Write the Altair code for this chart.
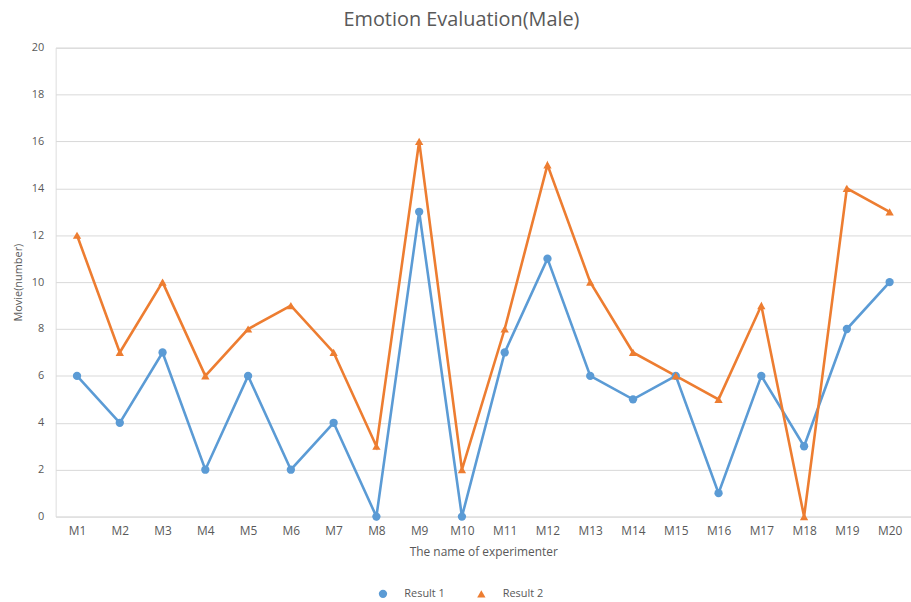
import altair as alt
import pandas as pd

names = [f"M{i}" for i in range(1, 21)]
result1 = [6, 4, 7, 2, 6, 2, 4, 0, 13, 0, 7, 11, 6, 5, 6, 1, 6, 3, 8, 10]
result2 = [12, 7, 10, 6, 8, 9, 7, 3, 16, 2, 8, 15, 10, 7, 6, 5, 9, 0, 14, 13]
series = ["Result 1", "Result 2"]
colors = ["#5B9BD5", "#ED7D31"]
shapes = ["circle", "triangle-up"]

rows = []
for n, a, b in zip(names, result1, result2):
    rows.append({"name": n, "value": a, "series": series[0]})
    rows.append({"name": n, "value": b, "series": series[1]})
df = pd.DataFrame(rows)

FONT = "Open Sans, sans-serif"

x = alt.X("name:N", sort=names, title="The name of experimenter",
          scale=alt.Scale(type="point", padding=0.5),
          axis=alt.Axis(labelAngle=0, ticks=False, domain=False, grid=False,
                        labelPadding=9, titlePadding=10, labelFontSize=12,
                        titleFontSize=12, labelColor="#595959", titleColor="#595959",
                        labelFont=FONT, titleFont=FONT, titleFontWeight="normal"))
y = alt.Y("value:Q", title="Movie(number)",
          scale=alt.Scale(domain=[0, 20], nice=False),
          axis=alt.Axis(values=list(range(0, 21, 2)), ticks=False, domain=False,
                        gridColor="#d9d9d9", gridWidth=1, labelPadding=12,
                        titlePadding=8, labelFontSize=11, titleFontSize=11,
                        labelColor="#595959", titleColor="#595959",
                        labelFont=FONT, titleFont=FONT, titleFontWeight="normal"))
color = alt.Color("series:N", scale=alt.Scale(domain=series, range=colors),
                  legend=alt.Legend(title=None, orient="none", direction="horizontal",
                                    legendX=324, legendY=544, labelFontSize=11,
                                    labelColor="#595959", labelFont=FONT,
                                    symbolSize=70, symbolStrokeWidth=0,
                                    labelOffset=16, columnPadding=31))
shape = alt.Shape("series:N", scale=alt.Scale(domain=series, range=shapes),
                  legend=alt.Legend(title=None))

lines = alt.Chart(df).mark_line(strokeWidth=2.6).encode(x=x, y=y, color=color,
                                                        detail="series:N")
points = alt.Chart(df).mark_point(filled=True, size=70, opacity=1).encode(
    x=x, y=y, color=color, shape=shape)

chart = alt.layer(lines, points).properties(
    width=861, height=472,
    title=alt.TitleParams("Emotion Evaluation(Male)", fontSize=20, font=FONT,
                          fontWeight="normal", color="#595959", dx=-22, offset=12),
    padding={"left": 56, "top": 46, "right": 0, "bottom": 84},
    autosize=alt.AutoSizeParams(type="none"),
).configure_view(stroke=None).configure(background="white")

chart.save("out.html", embed_options={"renderer": "svg", "actions": False})
